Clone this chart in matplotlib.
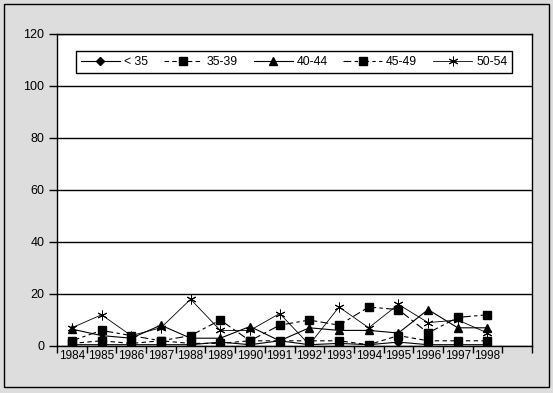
import matplotlib
matplotlib.use('Agg')
import matplotlib.pyplot as plt
from matplotlib.patches import Rectangle

plt.rcParams['font.family'] = ['Liberation Sans', 'DejaVu Sans']

# data (percent)
years = ['1984', '1985', '1986', '1987', '1988', '1989', '1990', '1991',
         '1992', '1993', '1994', '1995', '1996', '1997', '1998']
under_35 = [0.5, 0.5, 0.5, 0.5, 0.5, 1.5, 0.5, 2, 0.5, 1, 0.5, 1.5, 0.5, 0.5, 0.5]
age_35_39 = [1, 2, 1, 2, 1, 1, 2, 2, 2, 2, 0.5, 4, 2, 2, 2]
age_40_44 = [6.5, 4, 3, 8, 3, 3, 7.5, 2, 7, 6, 6, 5, 14, 7, 7]
age_45_49 = [2, 6, 4, 2, 4, 10, 2, 8, 10, 8, 15, 14, 5, 11, 12]
age_50_54 = [7, 12, 4, 7, 18, 6, 6, 12.5, 0.5, 15, 7, 16, 9, 10, 5]

fig = plt.figure(figsize=(5.53, 3.93), dpi=100)
fig.patch.set_facecolor('#dddddd')
fig.patches.append(Rectangle((4 / 553, 6 / 393), 545 / 553, 383 / 393,
                             transform=fig.transFigure, fill=False,
                             edgecolor='black', linewidth=1))

ax = fig.add_axes([57 / 553, 47 / 393, 475 / 553, 312 / 393])
ax.set_facecolor('white')

x = list(range(len(years)))
lw = 0.8
ax.plot(x, under_35, color='black', lw=lw, marker='D', ms=4.5, label='< 35')
ax.plot(x, age_35_39, color='black', lw=lw, ls=(0, (4, 3)), marker='s', ms=5.8,
        label='35-39')
ax.plot(x, age_40_44, color='black', lw=lw, marker='^', ms=6.2, label='40-44')
ax.plot(x, age_45_49, color='black', lw=lw, ls=(0, (7, 3, 3, 3)), marker='s', ms=5.8,
        label='45-49')
ax.plot(x, age_50_54, color='black', lw=0.6, marker=(6, 2, 0), ms=7, mew=0.7,
        label='50-54')

ax.set_xlim(-0.5, 15.5)
ax.set_ylim(0, 120)
ax.set_yticks(range(0, 121, 20))
ax.yaxis.grid(True, color='black', lw=1)
ax.set_axisbelow(True)

ax.set_xticks(x)
ax.set_xticklabels(years)
ax.set_xticks([i - 0.5 for i in range(17)], minor=True)
ax.tick_params(axis='x', which='major', length=0, labelsize=8.5, pad=3)
ax.tick_params(axis='x', which='minor', length=5, width=1, direction='out')
ax.tick_params(axis='y', length=6, width=1, labelsize=9, pad=3)

for s in ax.spines.values():
    s.set_color('black')
    s.set_linewidth(1)

leg = ax.legend(ncol=5, loc='lower left', mode='expand',
                bbox_to_anchor=(0.04, 0.875, 0.918, 0.0865),
                fancybox=False, edgecolor='black', framealpha=1,
                fontsize=8.8, handlelength=3.2, handletextpad=0.3,
                borderaxespad=0, columnspacing=1.0)
leg.get_frame().set_linewidth(1)

fig.savefig('out.png', dpi=100, facecolor=fig.get_facecolor())
